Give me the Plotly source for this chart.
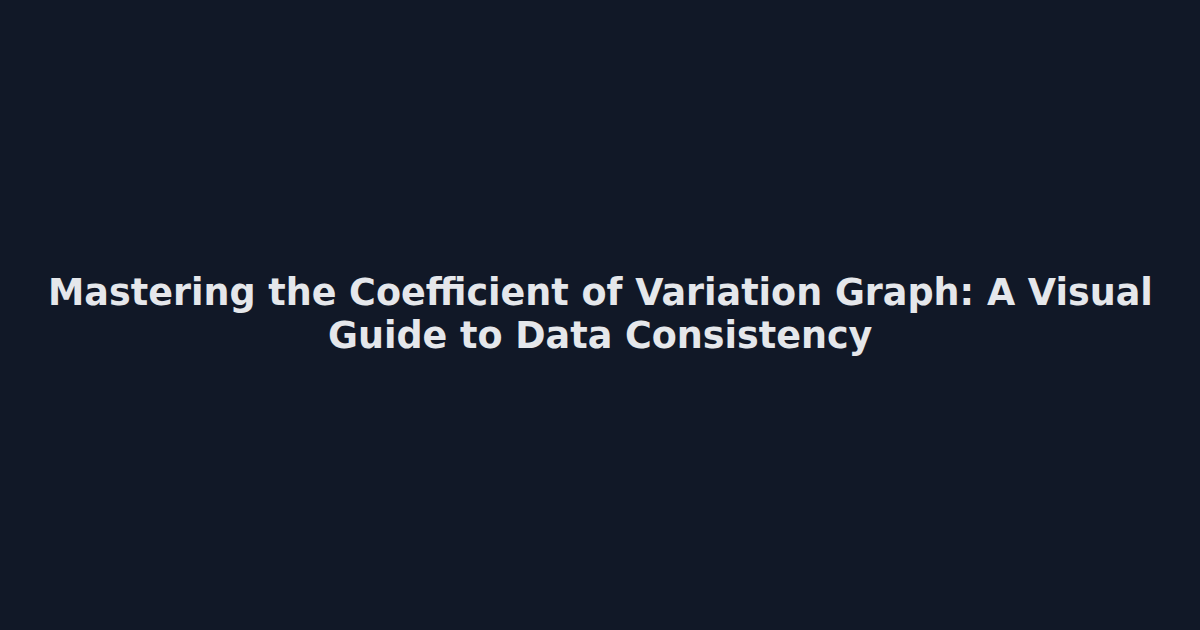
import plotly.graph_objects as go

# title card, no data series - only the two title lines
title_lines = ["Mastering the Coefficient of Variation Graph: A Visual",
               "Guide to Data Consistency"]
line_y = [0.535, 0.468]  # paper position of each line's centre
bg_color = "#111827"
text_color = "#e5e7eb"

fig = go.Figure()
for t, y in zip(title_lines, line_y):
    fig.add_annotation(
        text="<b>%s</b>" % t,
        x=0.5, y=y, xref="paper", yref="paper",
        xanchor="center", yanchor="middle",
        showarrow=False, align="center",
        font=dict(family="DejaVu Sans", size=36.5, color=text_color),
    )
fig.update_layout(
    width=1200, height=630,
    margin=dict(l=0, r=0, t=0, b=0),
    paper_bgcolor=bg_color, plot_bgcolor=bg_color,
    xaxis=dict(visible=False), yaxis=dict(visible=False),
    showlegend=False,
)
# drop the default page margin so the card fills the window
fig.write_html("out.html", config={"displayModeBar": False},
               post_script="document.body.style.margin='0';document.body.style.background='%s';" % bg_color)
